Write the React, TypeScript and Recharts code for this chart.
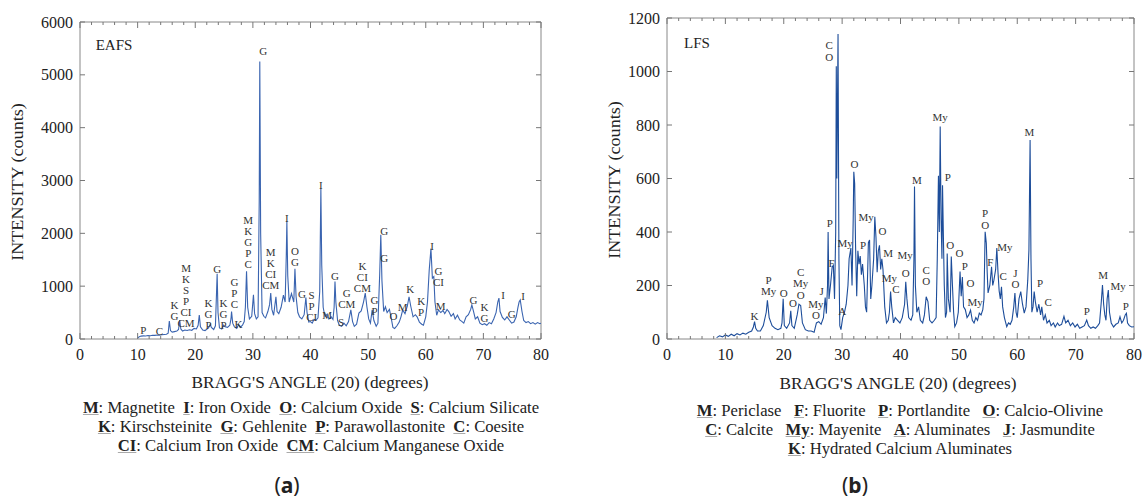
import React from "react";
import { ComposedChart, Line, Scatter, XAxis, YAxis, ReferenceArea } from "recharts";

const FONT = "'Liberation Serif', 'DejaVu Serif', serif";

// ---------- shared tick labels ----------
const xTicks = [0, 2, 4, 6, 8, 10, 12, 14, 16, 18, 20, 22, 24, 26, 28, 30, 32, 34, 36, 38, 40, 42, 44, 46, 48, 50, 52, 54, 56, 58, 60, 62, 64, 66, 68, 70, 72, 74, 76, 78, 80];
const eafsYTicks = [0, 1000, 2000, 3000, 4000, 5000, 6000];
const lfsYTicks = [0, 200, 400, 600, 800, 1000, 1200];

// ---------- EAFS pattern (2θ, counts) ----------
const eafsAngle = [
  10.0, 10.3, 10.6, 11.0, 11.4, 11.8, 12.2, 12.6, 13.0, 13.4, 13.8, 14.2, 14.6, 15.0, 15.3, 15.5, 15.7, 16.0, 16.4, 16.8,
  17.1, 17.3, 17.5, 17.8, 18.2, 18.6, 19.0, 19.4, 19.8, 20.2, 20.5, 20.7, 20.9, 21.3, 21.7, 22.1, 22.4, 22.6, 22.8, 23.2,
  23.5, 23.7, 23.8, 23.95, 24.2, 24.6, 24.9, 25.2, 25.6, 26.0, 26.2, 26.3, 26.5, 26.8, 27.2, 27.5, 27.8, 28.2, 28.5, 28.7,
  28.9, 29.1, 29.4, 29.8, 30.1, 30.3, 30.6, 30.9, 31.1, 31.2, 31.35, 31.6, 31.9, 32.2, 32.6, 32.9, 33.1, 33.3, 33.6, 34.0,
  34.2, 34.5, 34.9, 35.3, 35.6, 35.8, 35.9, 36.05, 36.3, 36.7, 36.9, 37.1, 37.3, 37.5, 37.8, 38.1, 38.5, 38.9, 39.2, 39.4,
  39.7, 40.0, 40.3, 40.6, 41.0, 41.3, 41.6, 41.8, 41.95, 42.2, 42.5, 42.9, 43.2, 43.6, 43.9, 44.1, 44.25, 44.4, 44.7, 45.0,
  45.4, 45.8, 46.2, 46.6, 47.0, 47.3, 47.6, 48.0, 48.4, 48.8, 49.2, 49.5, 49.8, 50.1, 50.4, 50.7, 51.0, 51.4, 51.7, 52.0,
  52.2, 52.4, 52.7, 53.0, 53.3, 53.7, 54.0, 54.3, 54.6, 55.0, 55.4, 55.7, 56.0, 56.4, 56.8, 57.1, 57.4, 57.8, 58.2, 58.5,
  58.9, 59.3, 59.6, 60.0, 60.3, 60.6, 60.9, 61.15, 61.4, 61.6, 61.9, 62.2, 62.6, 63.0, 63.3, 63.7, 64.0, 64.4, 64.8, 65.1,
  65.5, 65.9, 66.3, 66.6, 67.0, 67.4, 67.8, 68.0, 68.3, 68.6, 69.0, 69.4, 69.8, 70.2, 70.6, 71.0, 71.4, 71.8, 72.2, 72.5,
  72.7, 72.9, 73.3, 73.7, 74.1, 74.5, 74.9, 75.3, 75.7, 76.0, 76.2, 76.4, 76.7, 77.0, 77.4, 77.8, 78.2, 78.6, 79.0, 79.4,
  79.8, 80.0,
];
const eafsCounts = [
  20, 45, 55, 60, 58, 65, 62, 70, 68, 75, 72, 80, 85, 90, 110, 340, 160, 130, 140, 150,
  180, 360, 190, 150, 170, 160, 175, 165, 200, 190, 260, 455, 230, 170, 160, 190, 230, 280, 220, 180,
  250, 900, 1235, 500, 210, 190, 260, 230, 220, 260, 380, 520, 300, 230, 200, 270, 220, 260, 330, 600,
  1280, 600, 380, 430, 835, 480, 380, 420, 2600, 5250, 2000, 500, 430, 400, 520, 650, 870, 560, 450, 800,
  520, 480, 600, 830, 700, 1600, 2230, 1200, 700, 860, 780, 700, 1330, 800, 500, 420, 380, 460, 785, 500,
  320, 330, 300, 370, 360, 400, 900, 2850, 1400, 600, 420, 470, 380, 420, 370, 600, 1090, 700, 350, 260,
  240, 300, 250, 330, 550, 330, 240, 280, 490, 530, 700, 870, 600, 380, 300, 550, 350, 240, 300, 1200,
  1975, 1100, 520, 610, 500, 560, 400, 220, 200, 250, 320, 420, 550, 480, 620, 800, 620, 420, 460, 420,
  320, 280, 260, 420, 700, 1300, 1710, 1150, 1180, 700, 450, 550, 500, 540, 480, 560, 520, 430, 480, 380,
  450, 360, 330, 300, 420, 460, 560, 645, 520, 380, 420, 300, 270, 290, 260, 310, 290, 380, 500, 700,
  775, 520, 410, 360, 420, 360, 300, 320, 420, 600, 700, 740, 520, 350, 310, 330, 290, 310, 280, 310,
  290, 300,
];

// ---------- LFS pattern (2θ, counts) ----------
const lfsAngle = [
  8.5, 9.0, 9.5, 10.0, 10.5, 11.0, 11.5, 12.0, 12.5, 13.0, 13.5, 14.0, 14.5, 14.8, 15.0, 15.2, 15.5, 16.0, 16.5, 17.0,
  17.2, 17.5, 18.0, 18.5, 19.0, 19.5, 19.7, 19.9, 20.1, 20.5, 21.0, 21.2, 21.4, 21.8, 22.3, 22.6, 22.9, 23.2, 23.7, 24.2,
  24.7, 25.2, 25.6, 26.0, 26.4, 26.8, 27.1, 27.3, 27.5, 27.6, 27.75, 28.0, 28.3, 28.5, 28.7, 28.9, 29.0, 29.1, 29.3, 29.45,
  29.6, 29.8, 30.1, 30.4, 30.7, 31.0, 31.2, 31.5, 31.7, 31.9, 32.0, 32.15, 32.3, 32.5, 32.7, 32.9, 33.1, 33.3, 33.5, 33.8,
  34.0, 34.2, 34.5, 34.7, 34.9, 35.1, 35.4, 35.6, 35.8, 36.0, 36.2, 36.4, 36.6, 36.8, 37.0, 37.3, 37.6, 37.9, 38.1, 38.3,
  38.5, 38.8, 39.1, 39.5, 39.9, 40.3, 40.7, 40.9, 41.1, 41.4, 41.8, 42.1, 42.3, 42.4, 42.55, 42.8, 43.1, 43.4, 43.8, 44.1,
  44.4, 44.7, 45.0, 45.4, 45.8, 46.1, 46.3, 46.5, 46.65, 46.8, 46.95, 47.1, 47.2, 47.35, 47.5, 47.7, 47.9, 48.0, 48.2, 48.5,
  48.7, 48.9, 49.1, 49.3, 49.6, 49.9, 50.2, 50.4, 50.6, 50.8, 51.1, 51.4, 51.7, 52.0, 52.3, 52.6, 52.9, 53.2, 53.5, 53.8,
  54.1, 54.3, 54.5, 54.7, 54.85, 55.0, 55.3, 55.6, 55.8, 56.0, 56.3, 56.5, 56.7, 56.9, 57.1, 57.3, 57.5, 57.8, 58.2, 58.5,
  58.8, 59.1, 59.4, 59.6, 59.8, 60.0, 60.3, 60.6, 60.9, 61.2, 61.5, 61.8, 62.0, 62.2, 62.35, 62.5, 62.7, 62.9, 63.1, 63.4,
  63.7, 64.0, 64.2, 64.5, 64.8, 65.1, 65.5, 65.8, 66.2, 66.5, 66.9, 67.2, 67.6, 68.0, 68.3, 68.7, 69.1, 69.5, 69.9, 70.3,
  70.7, 71.1, 71.5, 71.9, 72.2, 72.6, 73.0, 73.4, 73.8, 74.1, 74.4, 74.6, 74.8, 75.0, 75.2, 75.4, 75.6, 75.8, 76.1, 76.5,
  76.9, 77.3, 77.6, 77.9, 78.2, 78.5, 78.7, 78.9, 79.2, 79.6, 80.0,
];
const lfsCounts = [
  5, 12, 8, 15, 10, 18, 12, 20, 15, 22, 18, 25, 30, 45, 65, 40, 30, 30, 50, 100,
  145, 80, 50, 40, 35, 40, 60, 150, 50, 40, 60, 105, 50, 40, 90, 130, 125, 60, 35, 30,
  30, 25, 60, 65, 55, 80, 155, 95, 200, 400, 150, 200, 270, 275, 150, 400, 1020, 600, 1140, 300,
  50, 35, 80, 100, 130, 200, 300, 340, 200, 450, 625, 580, 350, 160, 330, 280, 310, 240, 280, 200,
  120, 100, 360, 370, 150, 200, 300, 457, 380, 250, 330, 350, 260, 300, 260, 120, 60, 70, 100, 177,
  120, 60, 80, 70, 60, 80, 130, 214, 150, 80, 70, 90, 300, 570, 200, 100, 120, 70, 60, 90,
  158, 140, 70, 60, 70, 80, 300, 610, 400, 794, 450, 300, 575, 380, 200, 80, 100, 320, 150, 100,
  308, 200, 100, 46, 60, 100, 252, 160, 232, 120, 110, 80, 90, 108, 70, 60, 80, 70, 97, 90,
  110, 150, 401, 358, 250, 172, 200, 270, 200, 220, 260, 340, 250, 180, 150, 195, 120, 80, 46, 60,
  55, 70, 120, 172, 100, 80, 150, 177, 130, 97, 120, 220, 333, 744, 300, 100, 120, 177, 140, 100,
  130, 90, 120, 70, 90, 60, 70, 50, 60, 45, 60, 50, 55, 85, 60, 70, 50, 60, 45, 55,
  40, 45, 50, 71, 50, 40, 45, 40, 50, 60, 140, 202, 130, 90, 70, 150, 183, 100, 60, 45,
  55, 60, 83, 60, 70, 90, 96, 60, 50, 45, 46,
];

// ---------- peak labels (2θ, counts at top letter, letters) ----------
const eafsPeakAngle = [11.0, 13.8, 16.4, 18.4, 22.3, 23.8, 24.9, 26.8, 27.5, 29.2, 31.8, 33.1, 35.9, 37.3, 38.5, 40.2, 41.8, 42.9, 44.25, 45.3, 46.3, 49.0, 51.1, 52.8, 52.8, 54.4, 56.0, 57.3, 59.2, 61.1, 62.2, 62.6, 68.3, 70.2, 73.4, 74.9, 76.9];
const eafsPeakCounts = [171, 146, 646, 1343, 689, 1329, 689, 1088, 285, 2246, 5456, 1639, 2292, 1658, 849, 836, 2924, 450, 1196, 329, 868, 1373, 741, 2038, 1532, 442, 602, 944, 722, 1766, 1291, 627, 741, 613, 836, 475, 817];
const eafsPeakText = ["P", "C", "K G", "M K S P CI CM", "K G P", "G", "K G P", "G P C", "K", "M K G P C", "G", "M K CI CM", "I", "O G", "G", "S P CI", "I", "M", "G", "S", "G CM", "K CI CM", "G P", "G", "G", "O", "M", "K", "K P", "I", "G CI", "M", "G", "K G", "I", "G", "I"];

const lfsPeakAngle = [15.0, 17.4, 20.0, 21.6, 22.9, 25.5, 26.5, 27.9, 28.2, 27.8, 30.0, 30.5, 32.1, 34.1, 33.6, 36.9, 37.9, 38.1, 39.2, 40.8, 40.9, 42.8, 44.4, 46.8, 48.1, 48.5, 50.1, 51.0, 52.0, 52.8, 54.5, 55.4, 57.9, 57.6, 59.7, 62.1, 63.9, 65.3, 71.9, 74.7, 77.3, 78.6];
const lfsPeakCounts = [86, 221, 173, 133, 252, 131, 181, 435, 285, 1099, 106, 358, 653, 455, 351, 405, 323, 227, 187, 313, 248, 594, 258, 831, 604, 351, 323, 274, 210, 139, 470, 289, 343, 235, 248, 775, 208, 139, 105, 239, 198, 124];
const lfsPeakText = ["K", "P My", "O", "O", "C My O", "My O", "J", "P", "F", "C O", "A", "My", "O", "My", "P", "O", "M", "My", "C", "My", "O", "M", "C O", "My", "P", "O", "O", "P", "O", "My", "P O", "F", "My", "C", "J O", "M", "P", "C", "P", "M", "My", "P"];

// ---------- legends ----------
const eafsLegend = [
  [["M", "Magnetite"], ["I", "Iron Oxide"], ["O", "Calcium Oxide"], ["S", "Calcium Silicate"]],
  [["K", "Kirschsteinite"], ["G", "Gehlenite"], ["P", "Parawollastonite"], ["C", "Coesite"]],
  [["CI", "Calcium Iron Oxide"], ["CM", "Calcium Manganese Oxide"]],
];
const lfsLegend = [
  [["M", "Periclase"], ["F", "Fluorite"], ["P", "Portlandite"], ["O", "Calcio-Olivine"]],
  [["C", "Calcite"], ["My", "Mayenite"], ["A", "Aluminates"], ["J", "Jasmundite"]],
  [["K", "Hydrated Calcium Aluminates"]],
];

const zip = (xs: number[], ys: number[]) => xs.map((a, i) => ({ a, v: ys[i] }));
const zipLabels = (xs: number[], ys: number[], ts: string[]) => xs.map((a, i) => ({ a, v: ys[i], t: ts[i] }));

type Frame = { pl: number; pr: number; pt: number; pb: number };

const makeXTick = (f: Frame) => (props: any) => {
  const { x, payload } = props;
  const major = payload.value % 10 === 0;
  const len = major ? 6 : 3;
  return (
    <g>
      <line x1={x} x2={x} y1={f.pb} y2={f.pb - len} stroke="#777" strokeWidth={1} />
      <line x1={x} x2={x} y1={f.pt} y2={f.pt + len} stroke="#777" strokeWidth={1} />
      {major ? (
        <text x={x} y={f.pb + 15} textAnchor="middle" dominantBaseline="central" style={{ fontFamily: FONT }} fontSize={16} fill="#222">
          {payload.value}
        </text>
      ) : null}
    </g>
  );
};

const makeYTick = (f: Frame) => (props: any) => {
  const { y, payload } = props;
  return (
    <g>
      <line x1={f.pl} x2={f.pl + 5} y1={y} y2={y} stroke="#777" strokeWidth={1} />
      <line x1={f.pr} x2={f.pr - 5} y1={y} y2={y} stroke="#777" strokeWidth={1} />
      <text x={f.pl - 7} y={y} textAnchor="end" dominantBaseline="central" style={{ fontFamily: FONT }} fontSize={16} fill="#222">
        {payload.value}
      </text>
    </g>
  );
};

const makeLabelShape = (spacing: number) => (props: any) => {
  const { cx, cy, payload } = props;
  const lines = String(payload.t).split(" ");
  return (
    <text x={cx} y={cy} textAnchor="middle" style={{ fontFamily: FONT }} fontSize={11} fill="#333">
      {lines.map((s, i) => (
        <tspan key={i} x={cx} y={cy + i * spacing} dominantBaseline="central">
          {s}
        </tspan>
      ))}
    </text>
  );
};

const Txt = ({ x, y, size = 16, rotate = 0, sx = 1, family = FONT, children }: any) => (
  <div
    style={{
      position: "absolute",
      left: x,
      top: y,
      transform: `translate(-50%, -50%) rotate(${rotate}deg) scaleX(${sx})`,
      fontFamily: family,
      fontSize: size,
      color: "#222",
      whiteSpace: "nowrap",
      lineHeight: 1,
    }}
  >
    {children}
  </div>
);

const Legend = ({ rows, x, y, gap, sx, sep }: any) => (
  <>
    {rows.map((row: string[][], r: number) => (
      <Txt key={r} x={x} y={y + r * gap} size={16} sx={sx}>
        {row.map(([k, v], i) => (
          <span key={i} style={{ marginRight: i < row.length - 1 ? sep : 0 }}>
            <b style={{ textDecoration: "underline", textDecorationColor: "#aaa" }}>{k}</b>: {v}
          </span>
        ))}
      </Txt>
    ))}
  </>
);

const Panel = ({ left, width, frame, yMax, yTicks, data, labels, color, spacing }: any) => {
  const height = 375;
  const f: Frame = { pl: frame.pl - left, pr: frame.pr - left, pt: frame.pt, pb: frame.pb };
  return (
    <div style={{ position: "absolute", left, top: 0 }}>
      <ComposedChart
        width={width}
        height={height}
        margin={{ top: f.pt, right: width - f.pr, bottom: height - f.pb - 30, left: f.pl - 60 }}
      >
        <XAxis
          dataKey="a"
          type="number"
          domain={[0, 80]}
          ticks={xTicks}
          interval={0}
          allowDataOverflow
          axisLine={false}
          tickLine={false}
          height={30}
          tick={makeXTick(f)}
        />
        <YAxis
          type="number"
          domain={[0, yMax]}
          ticks={yTicks}
          interval={0}
          allowDataOverflow
          axisLine={false}
          tickLine={false}
          width={60}
          tick={makeYTick(f)}
        />
        <ReferenceArea x1={0} x2={80} y1={0} y2={yMax} fill="none" stroke="#888" strokeWidth={1} ifOverflow="visible" />
        <Line data={data} dataKey="v" type="linear" stroke={color} strokeWidth={1.1} dot={false} isAnimationActive={false} />
        <Scatter data={labels} dataKey="v" shape={makeLabelShape(spacing)} isAnimationActive={false} />
      </ComposedChart>
    </div>
  );
};

export default function App() {
  return (
    <div style={{ position: "absolute", left: 0, top: 0, width: 1145, height: 503, background: "#fff", overflow: "hidden" }}>
      <Panel
        left={0}
        width={570}
        frame={{ pl: 80, pr: 541, pt: 22, pb: 339 }}
        yMax={6000}
        yTicks={eafsYTicks}
        data={zip(eafsAngle, eafsCounts)}
        labels={zipLabels(eafsPeakAngle, eafsPeakCounts, eafsPeakText)}
        color="#3a64b0"
        spacing={11}
      />
      <Panel
        left={580}
        width={565}
        frame={{ pl: 667, pr: 1134, pt: 18, pb: 339 }}
        yMax={1200}
        yTicks={lfsYTicks}
        data={zip(lfsAngle, lfsCounts)}
        labels={zipLabels(lfsPeakAngle, lfsPeakCounts, lfsPeakText)}
        color="#1d4d9a"
        spacing={11.5}
      />

      <Txt x={114} y={45} size={15}>EAFS</Txt>
      <Txt x={697} y={43} size={15}>LFS</Txt>

      <Txt x={18} y={182} rotate={-90} sx={1.13}>INTENSITY (counts)</Txt>
      <Txt x={615} y={180} rotate={-90} sx={1.13}>INTENSITY (counts)</Txt>

      <Txt x={310} y={383} sx={1.08}>BRAGG'S ANGLE (20) (degrees)</Txt>
      <Txt x={898} y={384} sx={1.08}>BRAGG'S ANGLE (20) (degrees)</Txt>

      <Legend rows={eafsLegend} x={311} y={408} gap={19} sx={1.04} sep={8} />
      <Legend rows={lfsLegend} x={900} y={411} gap={19} sx={1.04} sep={12} />

      <Txt x={287} y={485} size={21} family="'Noto Sans', sans-serif">
        (<b>a</b>)
      </Txt>
      <Txt x={855} y={485} size={21} family="'Noto Sans', sans-serif">
        (<b>b</b>)
      </Txt>
    </div>
  );
}
